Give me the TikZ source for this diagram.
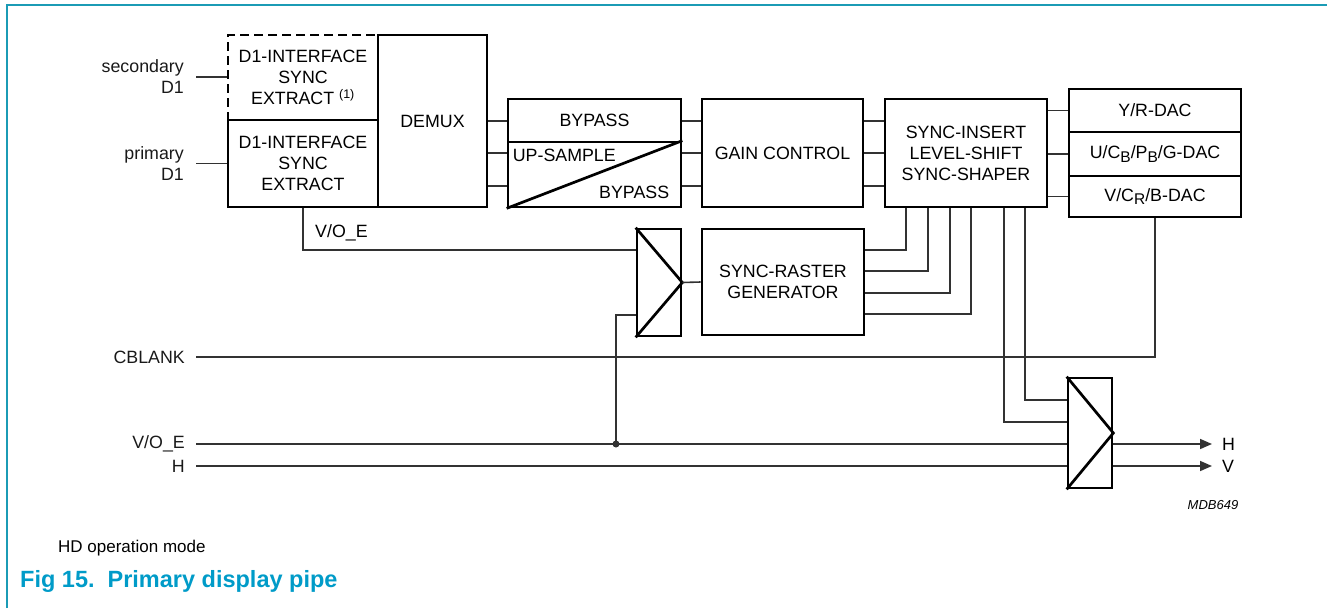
\documentclass[tikz,border=0pt]{standalone}
\usepackage{fontspec}
\setmainfont{Liberation Sans}
\usetikzlibrary{arrows.meta,calc}
\definecolor{framec}{RGB}{27,155,181}
\definecolor{titlec}{RGB}{0,155,200}
\definecolor{wirec}{RGB}{50,50,50}
\newcommand{\dfont}{\fontsize{17.8}{21}\selectfont}
\newcommand{\subB}[1]{\raisebox{-0.4ex}{\fontsize{15.5}{15}\selectfont #1}}
\begin{document}
\begin{tikzpicture}[x=1pt,y=-1pt,
  box/.style={draw=black, line width=2.7pt, inner sep=0pt, align=center, font=\dfont, text=black},
  muxline/.style={draw=black, line width=2.7pt},
  wire/.style={draw=wirec, line width=1.6pt},
  arr/.style={wire, -{Triangle[length=12pt,width=10pt]}},
  lbl/.style={inner ysep=0pt, inner xsep=12pt, font=\dfont, align=right, text=black!90},
  txt/.style={inner sep=0pt, font=\dfont, text=black},
  frame/.style={draw=framec, line width=1.8pt}]
\useasboundingbox (0,0) rectangle (1327,608);
\draw[frame] (7,608) -- (7,5) -- (1327,5);

% boxes
\node[box, dash pattern=on 9pt off 5pt, minimum width=150pt, minimum height=85pt] (sec) at (303,77.5)
  {D1-INTERFACE\\SYNC\\EXTRACT \textsuperscript{(1)}};
\node[box, minimum width=150pt, minimum height=87pt] (prim) at (303,163.5) {D1-INTERFACE\\SYNC\\EXTRACT};
\node[box, minimum width=109pt, minimum height=172pt] (demux) at (432.5,121) {DEMUX};
\node[box, minimum width=173pt, minimum height=43pt] (byp) at (594.5,120.5) {BYPASS};
\node[box, minimum width=173pt, minimum height=65pt] (ups) at (594.5,174.5) {};
\draw[muxline] (ups.south west) -- (ups.north east);
\node[txt, anchor=west] (tups) at ($(ups.north west)+(6,15)$) {UP-SAMPLE};
\node[txt, anchor=east] (tbyp) at ($(ups.south east)+(-13,-16)$) {BYPASS};
\node[box, minimum width=161pt, minimum height=108pt] (gain) at (782.5,153) {GAIN CONTROL};
\node[box, minimum width=162pt, minimum height=108pt] (sync) at (966,153) {SYNC-INSERT\\LEVEL-SHIFT\\SYNC-SHAPER};
\node[box, minimum width=172pt, minimum height=43pt] (dacY) at (1155,110.5) {Y/R-DAC};
\node[box, minimum width=172pt, minimum height=44pt] (dacU) at (1155,154) {U/C\subB{B}/P\subB{B}/G-DAC};
\node[box, minimum width=172pt, minimum height=41pt] (dacV) at (1155,196.5) {V/C\subB{R}/B-DAC};
\node[box, minimum width=44pt, minimum height=107pt] (mux1) at (659,282.5) {};
\draw[muxline] (mux1.north west) -- (mux1.east) -- (mux1.south west);
\node[box, minimum width=162pt, minimum height=106pt] (raster) at (783,282) {SYNC-RASTER\\GENERATOR};
\node[box, minimum width=44pt, minimum height=110pt] (mux2) at (1090,433) {};
\draw[muxline] (mux2.north west) -- (mux2.east) -- (mux2.south west);

% left labels
\node[lbl, anchor=east] (lsec) at (196,77) {secondary\\D1};
\node[lbl, anchor=east] (lprim) at (196,163.5) {primary\\D1};
\node[lbl, anchor=east, inner xsep=11pt] (lcb) at (196,357) {CBLANK};
\node[lbl, anchor=east, inner xsep=11pt] (lvo) at (196,444) {V/O\_E};
\node[lbl, anchor=east, inner xsep=11pt] (lh) at (196,466) {H};
\node[txt, anchor=west] (tvo) at (315,233) {V/O\_E};

% helper rows / columns
\coordinate (r1) at (0,121);
\coordinate (r2) at (0,153);
\coordinate (r3) at (0,186);
\coordinate (ya) at (0,250);
\coordinate (yb) at (0,271);
\coordinate (yc) at (0,293);
\coordinate (yd) at (0,314);
\coordinate (ye) at (0,400);
\coordinate (yf) at (0,422);
\coordinate (xa) at (906,0);
\coordinate (xb) at (928,0);
\coordinate (xc) at (950,0);
\coordinate (xd) at (971,0);
\coordinate (xe) at (1004,0);
\coordinate (xf) at (1025,0);
\coordinate (ym) at (0,315);
\coordinate (dot) at (616,444);

% wires
\draw[wire] (lsec.east) -- (sec.west |- lsec.east);
\draw[wire] (lprim.east) -- (prim.west |- lprim.east);
\foreach \r in {r1,r2,r3} {
  \draw[wire] (demux.east |- \r) -- (byp.west |- \r);
  \draw[wire] (byp.east |- \r) -- (gain.west |- \r);
  \draw[wire] (gain.east |- \r) -- (sync.west |- \r);
}
\draw[wire] (sync.east |- dacY.west) -- (dacY.west);
\draw[wire] (sync.east |- dacU.west) -- (dacU.west);
\draw[wire] (sync.east |- dacV.west) -- (dacV.west);
\draw[wire] (prim.south) |- (mux1.west |- ya);
\draw[wire] (mux1.east) -- (raster.west);
\draw[wire] (sync.south -| xa) |- (raster.east |- ya);
\draw[wire] (sync.south -| xb) |- (raster.east |- yb);
\draw[wire] (sync.south -| xc) |- (raster.east |- yc);
\draw[wire] (sync.south -| xd) |- (raster.east |- yd);
\draw[wire] (sync.south -| xf) |- (mux2.west |- ye);
\draw[wire] (sync.south -| xe) |- (mux2.west |- yf);
\draw[wire] (dacV.south) |- (lcb.east);
\draw[wire] (lvo.east) -- (mux2.west |- lvo.east);
\draw[wire] (lh.east) -- (mux2.west |- lh.east);
\draw[wire] (dot) |- (mux1.west |- ym);
\fill[wirec] (dot) circle (3.5pt);

% outputs
\node[txt, anchor=west, inner xsep=10pt] (oH) at (1212,444) {H};
\node[txt, anchor=west, inner xsep=10pt] (oV) at (1212,466) {V};
\draw[arr] (mux2.east |- oH.west) -- (oH.west);
\draw[arr] (mux2.east |- oV.west) -- (oV.west);

\node[txt, font=\fontsize{13}{15}\selectfont\itshape] (mdb) at (1213,505) {MDB649};
\node[txt, anchor=west, font=\fontsize{17}{20}\selectfont] (hd) at (58,548) {HD operation mode};
\node[txt, anchor=west, text=titlec, font=\fontsize{23.5}{26}\selectfont\bfseries] (fig) at (20,581)
  {Fig 15.\hspace{13pt}Primary display pipe};
\end{tikzpicture}
\end{document}
